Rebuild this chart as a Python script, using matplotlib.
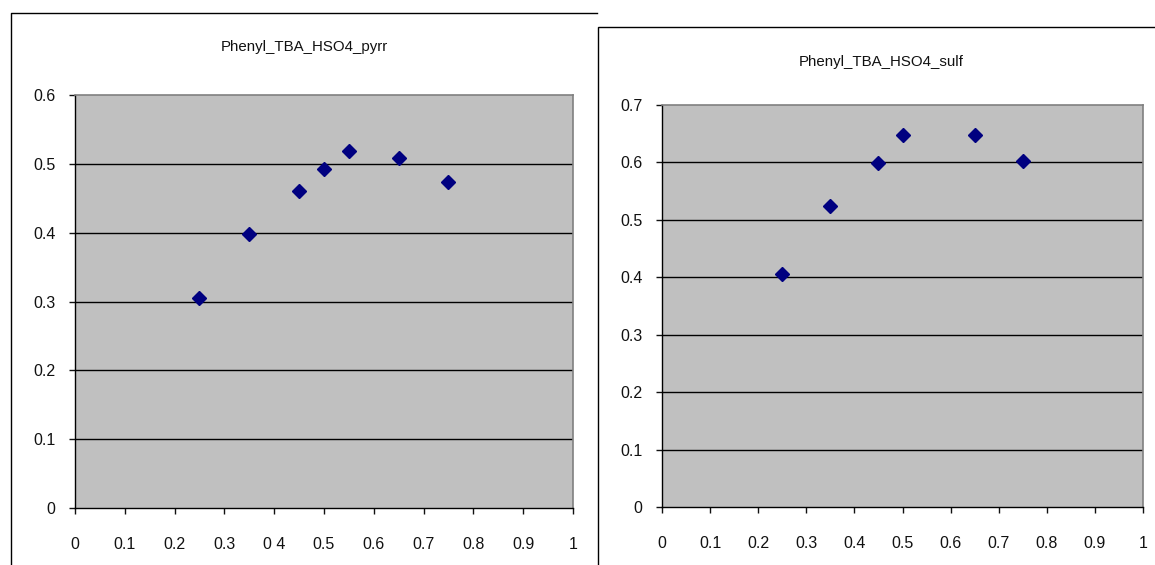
import matplotlib
matplotlib.use("Agg")
import matplotlib.pyplot as plt
from matplotlib.lines import Line2D
from matplotlib.patches import Rectangle

plt.rcParams['font.family'] = ['Liberation Sans', 'DejaVu Sans']

# mole fraction vs. response, two probes
pyrr_x = [0.25, 0.35, 0.45, 0.5, 0.55, 0.65, 0.75]
pyrr_y = [0.305, 0.398, 0.461, 0.493, 0.518, 0.508, 0.474]
sulf_x = [0.25, 0.35, 0.45, 0.5, 0.65, 0.75]
sulf_y = [0.406, 0.524, 0.599, 0.647, 0.647, 0.602]

x_ticks = [0, 0.1, 0.2, 0.3, 0.4, 0.5, 0.6, 0.7, 0.8, 0.9, 1]
pyrr_xlabels = ['0', '0.1', '0.2', '0.3', '0 4', '0.5', '0.6', '0.7', '0.8', '0.9', '1']
sulf_xlabels = ['0', '0.1', '0.2', '0.3', '0.4', '0.5', '0.6', '0.7', '0.8', '0.9', '1']
pyrr_yticks = [0, 0.1, 0.2, 0.3, 0.4, 0.5, 0.6]
sulf_yticks = [0, 0.1, 0.2, 0.3, 0.4, 0.5, 0.6, 0.7]

W, H = 1155, 565
fig = plt.figure(figsize=(W / 100, H / 100), dpi=100)


def px_box(x0, y0, x1, y1):
    # pixel box (top-left origin) -> figure fraction [l, b, w, h]
    return [x0 / W, 1 - y1 / H, (x1 - x0) / W, (y1 - y0) / H]


# chart frames: first one only shows its left and top edges,
# the second one is drawn over it
fig.add_artist(Line2D([10.5 / W, 10.5 / W, 597 / W], [0, 1 - 12.5 / H, 1 - 12.5 / H],
                      transform=fig.transFigure, color='black', lw=1.0, zorder=0))
fig.add_artist(Rectangle((597.5 / W, -0.1), 600 / W, 1.1 - 27.5 / H, transform=fig.transFigure,
                         facecolor='white', edgecolor='black', lw=1.0, zorder=0.5))


def excel_scatter(box, xs, ys, xlabels, yticks, title, title_xy):
    ax = fig.add_axes(px_box(*box))
    ax.set_zorder(2)
    ax.set_facecolor('#C0C0C0')
    ax.set_xlim(0, 1)
    ax.set_ylim(0, yticks[-1])
    ax.set_xticks(x_ticks)
    ax.set_xticklabels(xlabels)
    ax.set_yticks(yticks)
    ax.set_yticklabels(['0'] + ['%.1f' % v for v in yticks[1:]])
    for v in yticks[1:-1]:
        ax.axhline(v, color='black', lw=1.0, zorder=1)
    for s in ['top', 'right']:
        ax.spines[s].set_color('#808080')
        ax.spines[s].set_linewidth(1.2)
    for s in ['left', 'bottom']:
        ax.spines[s].set_color('black')
        ax.spines[s].set_linewidth(1.0)
    ax.tick_params(axis='both', direction='out', length=4, width=1, labelsize=11.5,
                   colors='#111111')
    ax.tick_params(axis='y', pad=10)
    ax.tick_params(axis='x', pad=17)
    ax.plot(xs, ys, linestyle='none', marker='D', markersize=7.5,
            color='#000080', zorder=3, clip_on=False)
    # title is centred on the chart frame, not on the plot area
    fig.text(title_xy[0] / W, 1 - title_xy[1] / H, title, ha='center', va='center',
             fontsize=10.8, color='#111111')
    return ax


excel_scatter((75, 95, 573, 508), pyrr_x, pyrr_y, pyrr_xlabels, pyrr_yticks,
              'Phenyl_TBA_HSO4_pyrr', (304, 47))
excel_scatter((662, 105, 1143, 507), sulf_x, sulf_y, sulf_xlabels, sulf_yticks,
              'Phenyl_TBA_HSO4_sulf', (881, 62))

fig.savefig('out.png', dpi=100)
